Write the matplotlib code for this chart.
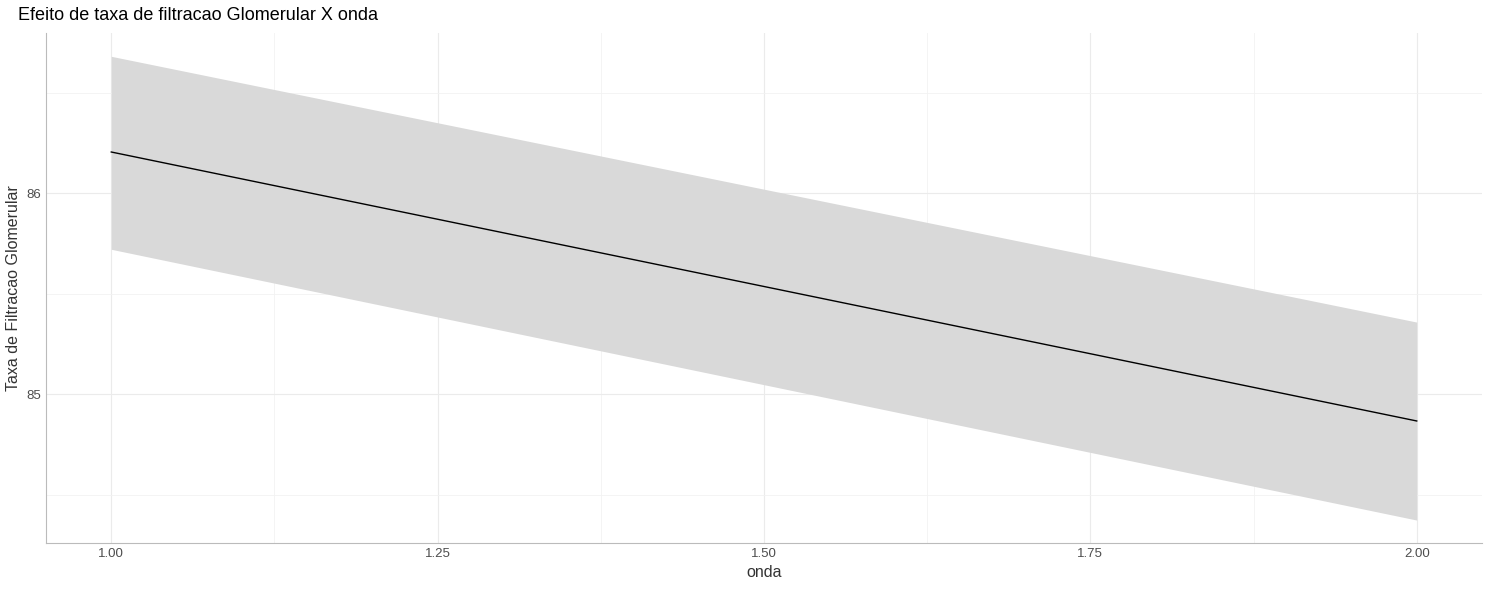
import matplotlib
matplotlib.use("Agg")
import matplotlib.pyplot as plt

plt.rcParams['font.family'] = ['Liberation Sans', 'DejaVu Sans']

onda = [1.0, 2.0]
fit = [86.204, 84.866]
lower = [85.72, 84.373]
upper = [86.68, 85.358]

fig = plt.figure(figsize=(14.91, 5.89), dpi=100)
ax = fig.add_axes([46/1491, 1-543/589, (1482-46)/1491, (543-33)/589])
ax.fill_between(onda, lower, upper, color="#d9d9d9", linewidth=0, zorder=2)
ax.plot(onda, fit, color="black", linewidth=1, zorder=3)
ax.set_xlim(0.95, 2.05)
ax.set_ylim(84.259, 86.796)
ax.set_xticks([1.0, 1.25, 1.5, 1.75, 2.0])
ax.set_xticklabels(["1.00", "1.25", "1.50", "1.75", "2.00"])
ax.set_yticks([85, 86])
ax.set_xticks([1.125, 1.375, 1.625, 1.875], minor=True)
ax.set_yticks([84.5, 85.5, 86.5], minor=True)
ax.grid(which="major", color="#ebebeb", linewidth=0.8, zorder=0)
ax.grid(which="minor", color="#f2f2f2", linewidth=0.6, zorder=0)
ax.tick_params(which="both", length=0, labelsize=9.5, labelcolor="#4d4d4d")
for s in ["top", "right"]:
    ax.spines[s].set_visible(False)
for s in ["left", "bottom"]:
    ax.spines[s].set_color("#bbbbbb")
ax.set_xlabel("onda", fontsize=11.5, color="#333333")
ax.set_ylabel("Taxa de Filtracao Glomerular", fontsize=11.5, color="#333333")
fig.text(18/1491, 1-16/589, "Efeito de taxa de filtracao Glomerular X onda", fontsize=13, va="center", ha="left")
fig.savefig("out.png", dpi=100)
